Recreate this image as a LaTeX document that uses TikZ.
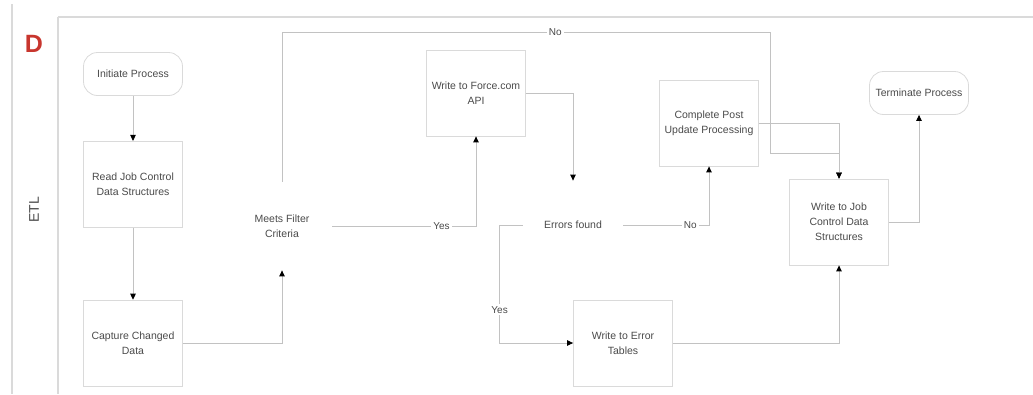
\documentclass[tikz,border=0pt]{standalone}
\usepackage{fontspec}
\setmainfont{Liberation Sans}
\usetikzlibrary{arrows.meta,positioning,shapes.geometric}
\definecolor{boxgray}{HTML}{DADADA}
\definecolor{linegray}{HTML}{C2C2C2}
\definecolor{inkgray}{HTML}{4A4A4A}
\definecolor{lanered}{HTML}{C8362E}
\tikzset{
  font=\fontsize{10.5}{15}\selectfont,
  block/.style={
    draw=boxgray,
    align=center,
    inner sep=2pt,
    text=inkgray,
    line width=.8pt
  },
  procblock/.style={block, minimum width=99pt, minimum height=86pt},
  termblock/.style={block, rounded corners=14pt, minimum width=99pt, minimum height=43pt},
  decisionblock/.style={block, diamond, draw=none, aspect=1.15,
    minimum width=100pt, minimum height=88pt},
  arrow/.style={-{Triangle[length=6pt,width=5.5pt,color=black]}, draw=linegray, line width=.9pt},
  note/.style={text=inkgray, fill=white, inner sep=2pt, font=\fontsize{10}{12}\selectfont}
}
\begin{document}
\begin{tikzpicture}[x=1pt, y=-1pt]
  \useasboundingbox (0,0) rectangle (1033,394);
  % swimlane frame
  \draw[boxgray, line width=1.4pt] (12,4) -- (12,394);
  \draw[boxgray, line width=1.4pt] (58,17) -- (58,394);
  \draw[boxgray, line width=1.4pt] (58,17) -- (1033,17);
  \node[text=lanered, font=\fontsize{25}{25}\selectfont\bfseries] (lane) at (34,44) {D};
  \node[text=inkgray, font=\fontsize{14}{14}\selectfont, rotate=90] (etl) at (34,210) {ETL};

  \node[termblock] (init) at (133,74) {Initiate Process};
  \node[procblock, below=45pt of init] (readjob) {Read Job Control\\Data Structures};
  \node[procblock, below=72pt of readjob] (capture) {Capture Changed\\Data};
  \node[decisionblock] (filter) at (282,226) {Meets Filter\\Criteria};
  \node[procblock] (force) at (476,93) {Write to Force.com\\API};
  \node[decisionblock] (errors) at (573,225) {Errors found};
  \node[procblock] (errtab) at (623,343) {Write to Error\\Tables};
  \node[procblock] (postupd) at (709,123) {Complete Post\\Update Processing};
  \node[procblock] (jobctl) at (839,222) {Write to Job\\Control Data\\Structures};
  \node[termblock] (term) at (919,93) {Terminate Process};
  \coordinate (noturn) at (770,32);

  \draw[arrow] (init) -- (readjob);
  \draw[arrow] (readjob) -- (capture);
  \draw[arrow] (capture.east) -| (filter.south);
  \draw[arrow] (filter.east) -| node[note, pos=.38]{Yes} (force.south);
  \draw[arrow] (filter.north) |- node[note, pos=.78]{No} (noturn) -- ++(0,121) -| (jobctl.north);
  \draw[arrow] (force.east) -| (errors.north);
  \draw[arrow] (errors.east) -| node[note, pos=.39]{No} (postupd.south);
  \draw[arrow] (errors.west) -- ++(-23,0) |- node[note, pos=.36]{Yes} (errtab.west);
  \draw[arrow] (postupd.east) -| (jobctl.north);
  \draw[arrow] (errtab.east) -| (jobctl.south);
  \draw[arrow] (jobctl.east) -| (term.south);
\end{tikzpicture}
\end{document}
